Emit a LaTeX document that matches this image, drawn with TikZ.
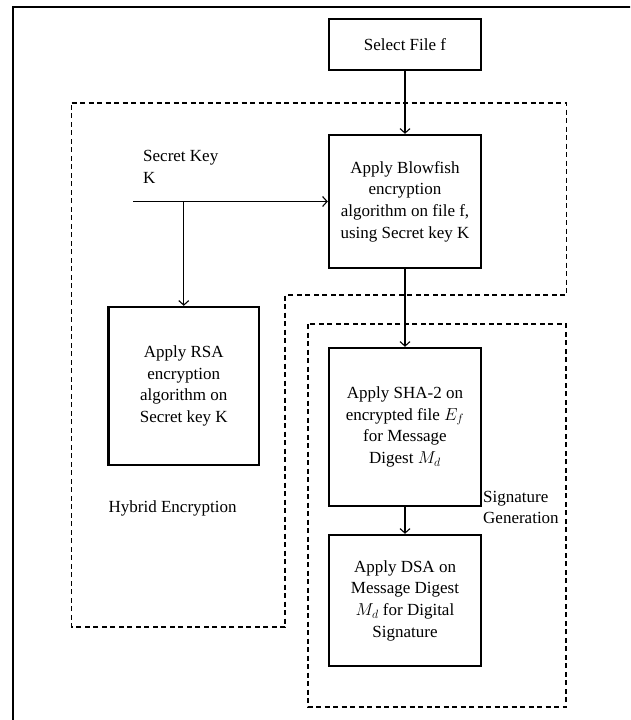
\documentclass[tikz,border=0pt]{standalone}
\usepackage{fontspec}
\setmainfont{Liberation Serif}
\usepackage{tikz}
\usetikzlibrary{arrows.meta}

\begin{document}
\begin{tikzpicture}[x=1pt,y=-1pt,>={Straight Barb[length=4.5pt,width=10pt]},
box/.style={draw,line width=2.4pt,align=center,inner sep=0pt,font=\fontsize{17}{21.7}\selectfont},
lbl/.style={align=left,anchor=west,inner sep=0pt,font=\fontsize{17}{21.7}\selectfont},
grp/.style={line width=1.2pt,dash pattern=on 5pt off 3.5pt}]
\useasboundingbox(0,0)rectangle(630,720);
\clip(0,0)rectangle(630,720);
\draw[line width=1.5pt](13,7)rectangle(660,760);
% groups
\draw[grp](71.5,103)--(566.5,103)--(566.5,295)--(285,295)--(285,627)--(71.5,627)--cycle;
\draw[grp](308,324)rectangle(566,707);
% boxes
\node[box,minimum width=152pt,minimum height=51pt](sel)at(405,44.5){Select File f};
\node[box,minimum width=152pt,minimum height=133pt](blow)at(405,201.5){Apply Blowfish\\encryption\\algorithm on file f,\\using Secret key K};
\node[box,minimum width=150.5pt,minimum height=158pt](rsa)at(183.75,386){Apply RSA\\encryption\\algorithm on\\Secret key K};
\node[box,minimum width=152pt,minimum height=158pt](sha)at(405,427){Apply SHA-2 on\\encrypted file $E_f$\\for Message\\Digest $M_d$};
\node[box,minimum width=152pt,minimum height=131pt](dsa)at(405,600.5){Apply DSA on\\Message Digest\\$M_d$ for Digital\\Signature};
% labels
\node[lbl](key)at(143,167){Secret Key\\K};
\node[lbl](hyb)at(108.5,508){Hybrid Encryption};
\node[lbl](sig)at(483,507.5){Signature\\Generation};
% arrows
\coordinate(keyin)at(133,201.5);
\coordinate(split)at(rsa.north|-keyin);
\draw[->,line width=1.1pt](sel)--(blow);
\draw[->,line width=1.1pt](keyin)--(blow);
\draw[->,line width=1.1pt](split)--(rsa);
\draw[->,line width=1.1pt](blow)--(sha);
\draw[->,line width=1.1pt](sha)--(dsa);
\end{tikzpicture}
\end{document}
